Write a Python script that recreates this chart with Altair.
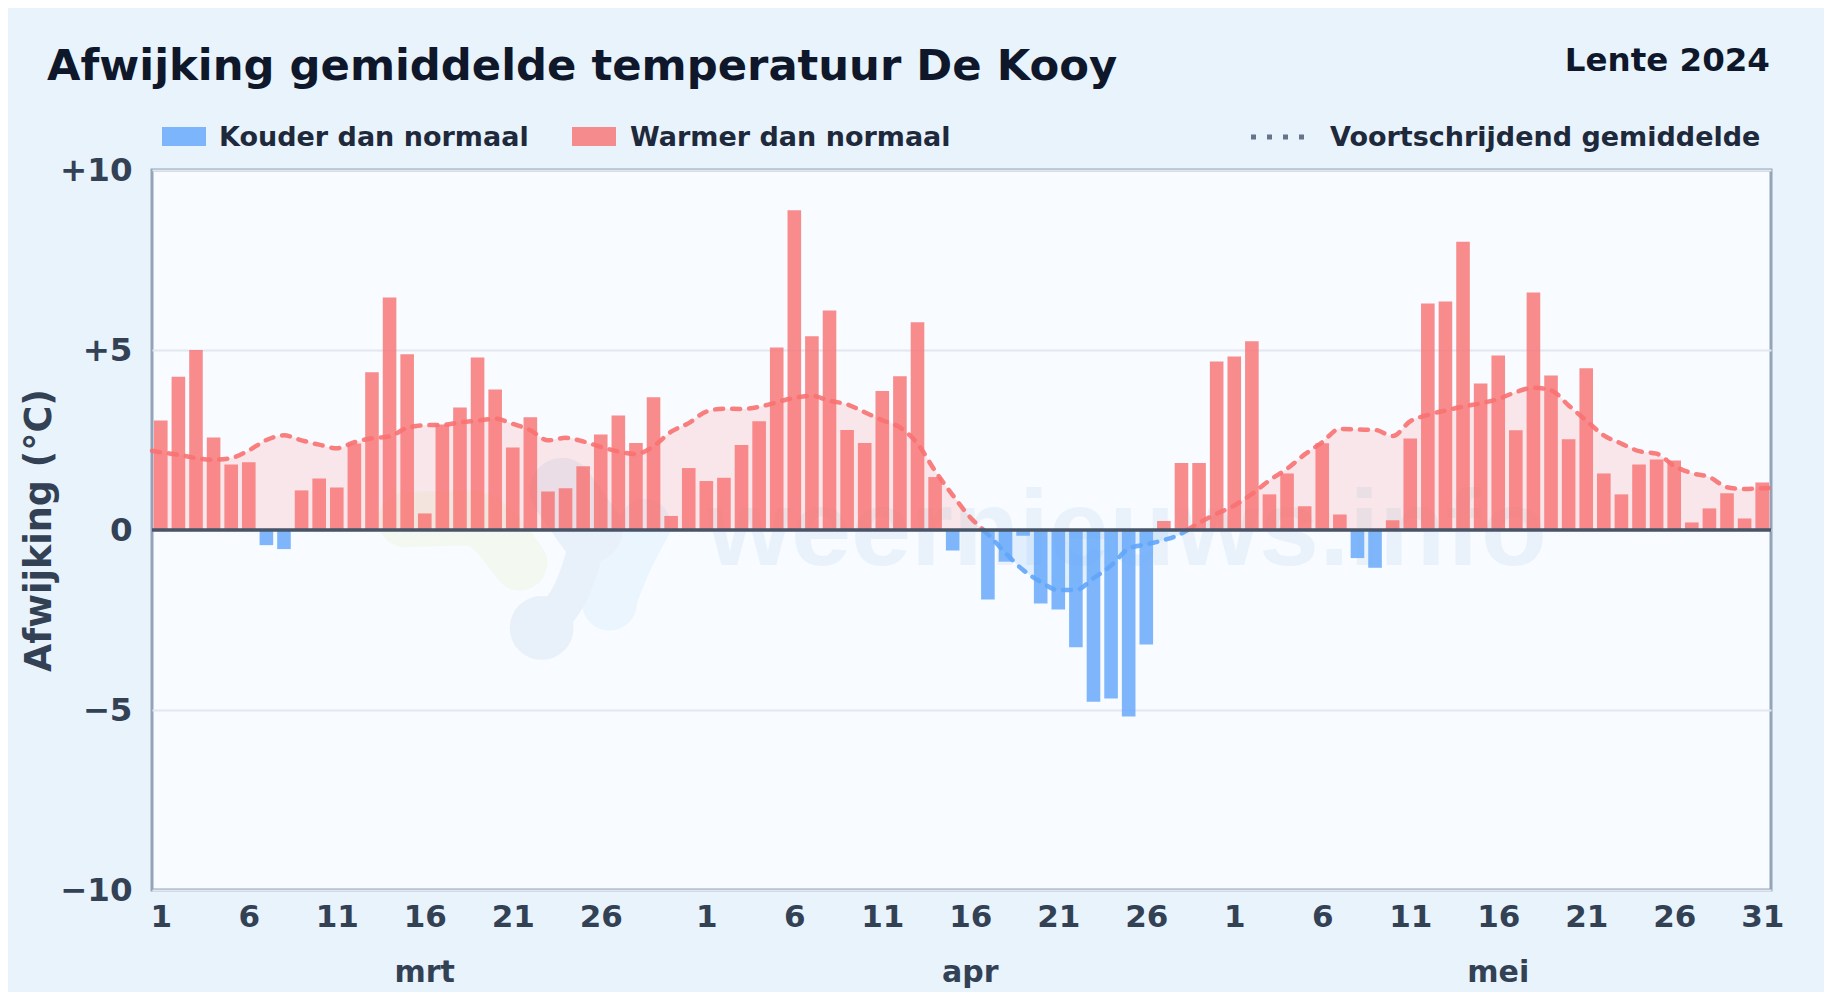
import json
import altair as alt
import pandas as pd

W, H = 1619, 720

title_text = "Afwijking gemiddelde temperatuur De Kooy"
season_text = "Lente 2024"
legend_texts = ["Kouder dan normaal", "Warmer dan normaal", "Voortschrijdend gemiddelde"]
watermark_text = "weernieuws.info"
months = ["mrt", "apr", "mei"]
month_pos = [15, 46, 76]
tick_pos = [0, 5, 10, 15, 20, 25, 31, 36, 41, 46, 51, 56, 61, 66, 71, 76, 81, 86, 91]
tick_lab = ["1", "6", "11", "16", "21", "26", "1", "6", "11", "16", "21", "26", "1", "6", "11", "16", "21", "26", "31"]

deviation = [
    3.04, 4.26, 5.00, 2.57, 1.82, 1.88, -0.42, -0.53, 1.10, 1.43, 1.18, 2.40, 4.38, 6.46, 4.88, 0.46,
    2.93, 3.40, 4.79, 3.90, 2.29, 3.13, 1.07, 1.16, 1.77, 2.65, 3.18, 2.42, 3.69, 0.39, 1.72,
    1.36, 1.45, 2.36, 3.02, 5.07, 8.88, 5.38, 6.10, 2.78, 2.42, 3.86, 4.27, 5.77, 1.47, -0.57, 0.0,
    -1.93, -0.88, -0.16, -2.04, -2.21, -3.26, -4.77, -4.68, -5.18, -3.18, 0.25, 1.86, 1.86,
    4.68, 4.82, 5.24, 0.99, 1.57, 0.66, 2.41, 0.43, -0.78, -1.05, 0.27, 2.54, 6.29, 6.35, 8.01,
    4.07, 4.85, 2.77, 6.60, 4.29, 2.52, 4.49, 1.57, 0.99, 1.82, 1.96, 1.93, 0.21, 0.60, 1.02, 0.32, 1.32,
]
moving_avg = [
    2.16, 2.09, 2.00, 1.95, 2.00, 2.21, 2.50, 2.63, 2.49, 2.37, 2.27, 2.44, 2.55, 2.60, 2.84, 2.91,
    2.92, 2.99, 3.04, 3.09, 2.95, 2.77, 2.49, 2.56, 2.46, 2.31, 2.18, 2.11, 2.33, 2.73, 2.97,
    3.29, 3.37, 3.36, 3.42, 3.55, 3.67, 3.73, 3.59, 3.49, 3.27, 3.05, 2.85, 2.40, 1.64, 0.97, 0.35,
    -0.12, -0.64, -1.11, -1.44, -1.67, -1.67, -1.34, -0.99, -0.52, -0.40, -0.28, -0.10, 0.20,
    0.45, 0.68, 1.00, 1.38, 1.70, 2.10, 2.44, 2.81, 2.79, 2.78, 2.61, 3.02, 3.20, 3.32, 3.43,
    3.52, 3.64, 3.83, 3.95, 3.88, 3.46, 3.04, 2.63, 2.40, 2.19, 2.12, 1.78, 1.58, 1.47, 1.19, 1.14, 1.16,
]
edge_left, edge_right = 2.20, 1.17

BG, PLOT = "#e8f3fc", "#f8fbff"
RED, BLUE = "#f87171", "#60a5fa"
INK, AXIS_INK, LEG_INK = "#0f172a", "#334155", "#1e293b"
FONT = "DejaVu Sans"

bars = pd.DataFrame({"i": range(len(deviation)), "v": deviation, "zero": 0.0})
bars["sign"] = ["cold" if v < 0 else "warm" for v in deviation]

# Running mean split into a warm and a cold run at its zero crossings
xs = [-0.5] + list(range(len(moving_avg))) + [91.5]
ys = [edge_left] + moving_avg + [edge_right]
rows, seg = [], 0
for k, (x, y) in enumerate(zip(xs, ys)):
    if k:
        px, py = xs[k - 1], ys[k - 1]
        if (py < 0) != (y < 0):
            cx = px + (x - px) * (-py) / (y - py)
            rows.append({"i": cx, "v": 0.0, "seg": seg, "zero": 0.0, "sign": "warm" if py >= 0 else "cold"})
            seg += 1
            rows.append({"i": cx, "v": 0.0, "seg": seg, "zero": 0.0, "sign": "warm" if y >= 0 else "cold"})
    rows.append({"i": x, "v": y, "seg": seg, "zero": 0.0, "sign": "warm" if y >= 0 else "cold"})
mean = pd.DataFrame(rows)

X = alt.X("i:Q", scale=alt.Scale(domain=[-0.5, 91.5], nice=False, zero=False, padding=0),
          axis=alt.Axis(values=tick_pos, title=None, grid=False, domain=False, ticks=False,
                        labelExpr="%s[datum.value]" % json.dumps({str(a): b for a, b in zip(tick_pos, tick_lab)}),
                        labelFont=FONT, labelFontSize=31, labelFontWeight="bold", labelColor=AXIS_INK,
                        labelPadding=12, labelAngle=0, labelFlush=False, labelOverlap=False))
Y = alt.Y("v:Q", scale=alt.Scale(domain=[-10, 10], nice=False),
          axis=alt.Axis(values=[-10, -5, 0, 5, 10], title="Afwijking (°C)",
                        labelExpr="datum.value > 0 ? '+' + datum.value : datum.value < 0 ? '\u2212' + abs(datum.value) : '0'",
                        grid=True, gridColor="#e2e8f0", gridWidth=2, domain=False, ticks=False,
                        labelFont=FONT, labelFontSize=32.5, labelFontWeight="bold", labelColor=AXIS_INK,
                        labelPadding=20, titleFont=FONT, titleFontSize=36.5, titleFontWeight="bold",
                        titleColor=AXIS_INK, titleX=-94, titleY=360, titleAngle=270))
SIGN = alt.Color("sign:N", scale=alt.Scale(domain=["cold", "warm"], range=[BLUE, RED]), legend=None)
one = pd.DataFrame({"a": [0]})


def label(text, x, y, size, color, align="left", font=FONT):
    return alt.Chart(one).mark_text(text=text, font=font, fontSize=size, fontWeight="bold", color=color,
                                    align=align, baseline="alphabetic").encode(
        x=alt.value(x), y=alt.value(y))


# Faint logo and wordmark behind the data
def blob(cx, cy, size, color):
    return alt.Chart(pd.DataFrame({"i": [cx], "v": [cy]})).mark_circle(size=size, color=color, opacity=1).encode(
        x=X, y=Y)


def neck(px, py, width, color):
    return alt.Chart(pd.DataFrame({"i": px, "v": py, "k": range(len(px))})).mark_line(
        strokeWidth=width, color=color, strokeCap="round", strokeJoin="round", interpolate="monotone"
    ).encode(x=X, y=Y, order="k:Q")


logo_dark, logo_light, logo_green = "#e8f0f9", "#eaf5fe", "#f3f8f0"
logo = [
    neck([13.9, 17.6, 20.4], [0.28, 0.33, -0.92], 55, logo_green),
    neck([27.5, 26.3, 25.5], [0.14, -1.0, -2.0], 52, logo_light),
    blob(25.5, -2.03, 3020, logo_light),
    neck([22.8, 24.4], [1.1, 0.0], 65, logo_dark),
    neck([24.4, 23.8, 21.7], [0.0, -1.1, -2.65], 36, logo_dark),
    blob(21.64, -2.72, 4070, logo_dark),
]

layers = logo + [
    label(watermark_text, 975, 395, 108, "#e9f2fb", align="center", font="Liberation Sans"),
    alt.Chart(mean[mean.sign == "warm"]).mark_area(opacity=0.15, interpolate="monotone", color=RED).encode(
        x=X, y=Y, y2="zero:Q", detail="seg:N"),
    alt.Chart(mean[mean.sign == "cold"]).mark_area(opacity=0.15, interpolate="monotone", color=BLUE).encode(
        x=X, y=Y, y2="zero:Q", detail="seg:N"),
    alt.Chart(bars).mark_bar(size=13.6, opacity=0.8).encode(x=X, y=Y, y2="zero:Q", color=SIGN),
    alt.Chart(mean).mark_line(strokeWidth=4.5, strokeDash=[8, 9], strokeCap="round", opacity=0.9,
                              interpolate="monotone").encode(x=X, y=Y, color=SIGN, detail="seg:N"),
    alt.Chart(one).mark_rule(color="#475569", strokeWidth=3.5).encode(y=alt.datum(0)),
    label(title_text, -105, -90, 43.3, INK),
    label(season_text, 1618, -99, 32.5, INK, align="right"),
    alt.Chart(one).mark_rect(color=BLUE, opacity=0.8).encode(
        x=alt.value(10), x2=alt.value(54), y=alt.value(-43), y2=alt.value(-24)),
    label(legend_texts[0], 67, -24, 27, LEG_INK),
    alt.Chart(one).mark_rect(color=RED, opacity=0.8).encode(
        x=alt.value(420), x2=alt.value(464), y=alt.value(-43), y2=alt.value(-24)),
    label(legend_texts[1], 478, -24, 27, LEG_INK),
    alt.Chart(one).mark_rule(color="#64748b", strokeWidth=5, strokeDash=[5, 11]).encode(
        x=alt.value(1099), x2=alt.value(1158), y=alt.value(-33)),
    label(legend_texts[2], 1178, -24, 27, LEG_INK),
]
for m, p in zip(months, month_pos):
    layers.append(alt.Chart(pd.DataFrame({"i": [p]})).mark_text(
        text=m, font=FONT, fontSize=30, fontWeight="bold", color=AXIS_INK, align="center", baseline="alphabetic"
    ).encode(x=X, y=alt.value(812)))

chart = alt.layer(*layers).resolve_scale(color="independent").properties(
    width=W, height=H, background=BG,
    autosize=alt.AutoSizeParams(type="none"),
    padding={"left": 144, "top": 162, "right": 53, "bottom": 102},
).configure_view(fill=PLOT, stroke="#94a3b8", strokeWidth=3)

chart.save("out.html", embed_options={"renderer": "svg", "actions": False})
